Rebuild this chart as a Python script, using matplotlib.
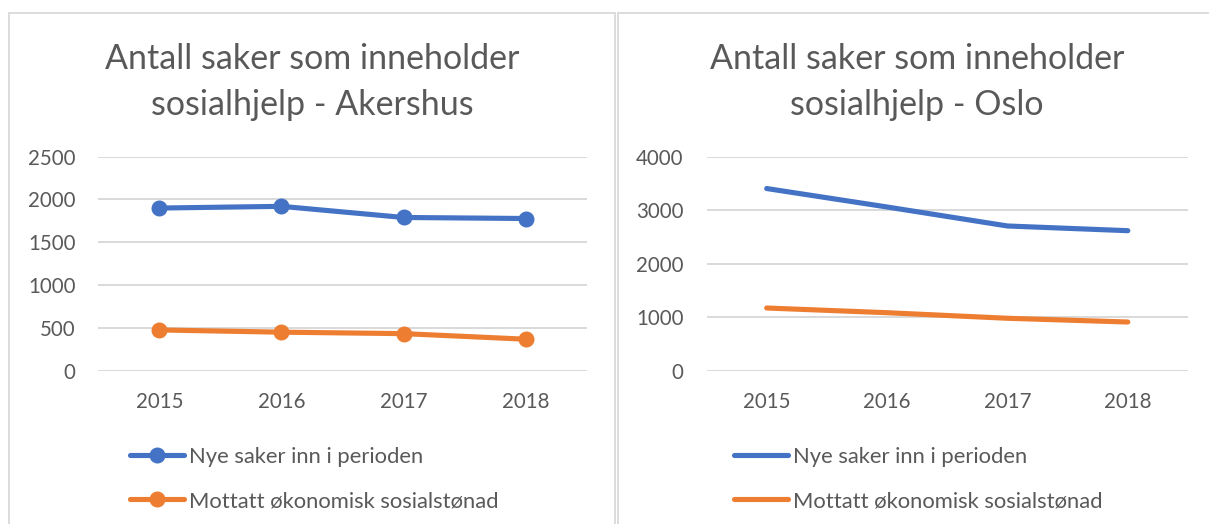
import matplotlib
matplotlib.use("Agg")
import matplotlib.pyplot as plt
from matplotlib.patches import Rectangle

# ---- data ----
years = ["2015", "2016", "2017", "2018"]
akershus_nye = [1900, 1920, 1790, 1778]
akershus_mottatt = [476, 450, 433, 368]
oslo_nye = [3405, 3060, 2705, 2617]
oslo_mottatt = [1172, 1084, 980, 910]
series_labels = ["Nye saker inn i perioden", "Mottatt økonomisk sosialstønad"]
title_line1 = "Antall saker som inneholder"
title_line2 = ["sosialhjelp - Akershus", "sosialhjelp - Oslo"]
yticks_left = [0, 500, 1000, 1500, 2000, 2500]
yticks_right = [0, 1000, 2000, 3000, 4000]

BLUE = "#4472C4"
ORANGE = "#ED7D31"
TXT = "#595959"
GRID = "#D9D9D9"
FONT = "Lato"

W, H = 1209, 524
fig = plt.figure(figsize=(W / 100, H / 100), dpi=100)
plt.rcParams['font.family'] = [FONT, 'DejaVu Sans']


def fx(px):
    return px / W


def fy(py):
    return 1 - py / H


# panel borders
for x0, x1 in [(9, 615), (618, 1230)]:
    fig.add_artist(Rectangle((fx(x0), fy(560)), fx(x1 - x0), (560 - 12.7) / H,
                             transform=fig.transFigure, fill=False,
                             edgecolor=GRID, linewidth=1.3, clip_on=False))

panels = [
    dict(left=98.3, right=586.8, nye=akershus_nye, mot=akershus_mottatt,
         yt=yticks_left, ymax=2500, markers=True, t2=title_line2[0], tcx=312,
         leg_x=130),
    dict(left=706.5, right=1188, nye=oslo_nye, mot=oslo_mottatt,
         yt=yticks_right, ymax=4000, markers=False, t2=title_line2[1], tcx=917,
         leg_x=734),
]

top_px, bot_px = 156.7, 370.7
for p in panels:
    ax = fig.add_axes([fx(p['left']), fy(bot_px), fx(p['right'] - p['left']),
                       (bot_px - top_px) / H])
    x = list(range(len(years)))
    mk = dict(marker='o', markersize=10.5) if p['markers'] else {}
    l1, = ax.plot(x, p['nye'], color=BLUE, linewidth=3.7,
                  solid_capstyle='round', solid_joinstyle='round',
                  label=series_labels[0], zorder=3, **mk)
    l2, = ax.plot(x, p['mot'], color=ORANGE, linewidth=3.7,
                  solid_capstyle='round', solid_joinstyle='round',
                  label=series_labels[1], zorder=3, **mk)
    ax.set_xlim(-0.5, len(years) - 0.5)
    ax.set_ylim(0, p['ymax'])
    ax.set_yticks(p['yt'])
    ax.set_yticklabels([str(v) for v in p['yt']])
    ax.set_xticks(x)
    ax.set_xticklabels(years)
    ax.grid(axis='y', color=GRID, linewidth=1.4)
    ax.set_axisbelow(True)
    for s in ax.spines.values():
        s.set_visible(False)
    ax.tick_params(axis='both', length=0, labelsize=14.8, colors=TXT)
    ax.tick_params(axis='y', pad=16.5)
    ax.tick_params(axis='x', pad=15)
    for lab in ax.get_xticklabels() + ax.get_yticklabels():
        lab.set_color(TXT)

    fig.text(fx(p['tcx']), fy(69.3), title_line1, ha='center', va='baseline',
             fontsize=24.5, color=TXT)
    fig.text(fx(p['tcx']), fy(115), p['t2'], ha='center', va='baseline',
             fontsize=24.5, color=TXT)

    leg = fig.legend(handles=[l1, l2], loc='center left',
                     bbox_to_anchor=(fx(p['leg_x']), fy(479)),
                     bbox_transform=fig.transFigure, frameon=False,
                     fontsize=15.8, handlelength=2.48, handletextpad=0.2,
                     labelspacing=1.1, borderpad=0, borderaxespad=0)
    for t in leg.get_texts():
        t.set_color(TXT)

fig.savefig("out.png", dpi=100, facecolor="white")
